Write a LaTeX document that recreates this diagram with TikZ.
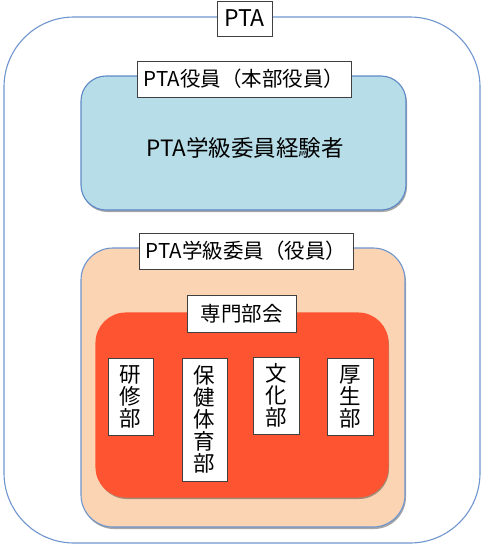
\documentclass[tikz,border=0pt]{standalone}
\usepackage{fontspec}
\setmainfont{Noto Sans CJK JP}
\usetikzlibrary{shadows}
\definecolor{outerblue}{HTML}{6F95CF}
\definecolor{bluefill}{HTML}{B7DDE8}
\definecolor{blueedge}{HTML}{5D88C6}
\definecolor{peachfill}{HTML}{FBD4B4}
\definecolor{redfill}{HTML}{FE5431}
\definecolor{labeledge}{HTML}{404040}
\tikzset{
  container/.style={draw=outerblue, line width=1.1pt, inner sep=0pt},
  labelbox/.style={draw=labeledge, fill=white, line width=0.6pt, inner sep=0pt,
    font=\fontsize{20.5}{22}\selectfont},
  vbox/.style={labelbox, align=center, font=\fontsize{21.5}{22}\selectfont},
  softshadow/.style={drop shadow={shadow xshift=1pt, shadow yshift=-2pt, opacity=0.35, fill=black}}
}
\begin{document}
\begin{tikzpicture}[x=1pt, y=-1pt]
\useasboundingbox (0,0) rectangle (485,552);
% containers
\node[container, rounded corners=70pt, minimum width=476pt, minimum height=526pt] (outer) at (242,280) {};
\node[container, draw=blueedge, fill=bluefill, rounded corners=25pt, softshadow, minimum width=325pt, minimum height=134pt] (blue) at (243.5,143) {};
\node[font=\fontsize{22.5}{24}\selectfont] (bluetext) at (245,148) {PTA学級委員経験者};
\node[container, fill=peachfill, rounded corners=32pt, softshadow, minimum width=324pt, minimum height=279pt] (peach) at (243,387.5) {};
\node[container, draw=redfill, fill=redfill, rounded corners=30pt, softshadow, minimum width=292pt, minimum height=184pt] (red) at (242,405) {};
% labels
\node[labelbox, font=\fontsize{23}{24}\selectfont, minimum width=55pt, minimum height=35pt] (pta) at (244.5,18.5) {PTA};
\node[labelbox, minimum width=214pt, minimum height=36pt] (honbu) at (244,79) {PTA役員（本部役員）};
\node[labelbox, minimum width=214pt, minimum height=36pt] (gakkyu) at (246,251) {PTA学級委員（役員）};
\node[labelbox, minimum width=109pt, minimum height=37pt] (senmon) at (241.5,313.5) {専門部会};
% sub-committees
\node[vbox, minimum width=45pt, minimum height=77pt] (kenshu) at (130.5,396.5) {研\\修\\部};
\node[vbox, minimum width=45pt, minimum height=123pt] (hoken) at (204.5,419.5) {保\\健\\体\\育\\部};
\node[vbox, minimum width=46pt, minimum height=77pt] (bunka) at (276,395.5) {文\\化\\部};
\node[vbox, minimum width=46pt, minimum height=77pt] (kousei) at (350,396.5) {厚\\生\\部};
\end{tikzpicture}
\end{document}
